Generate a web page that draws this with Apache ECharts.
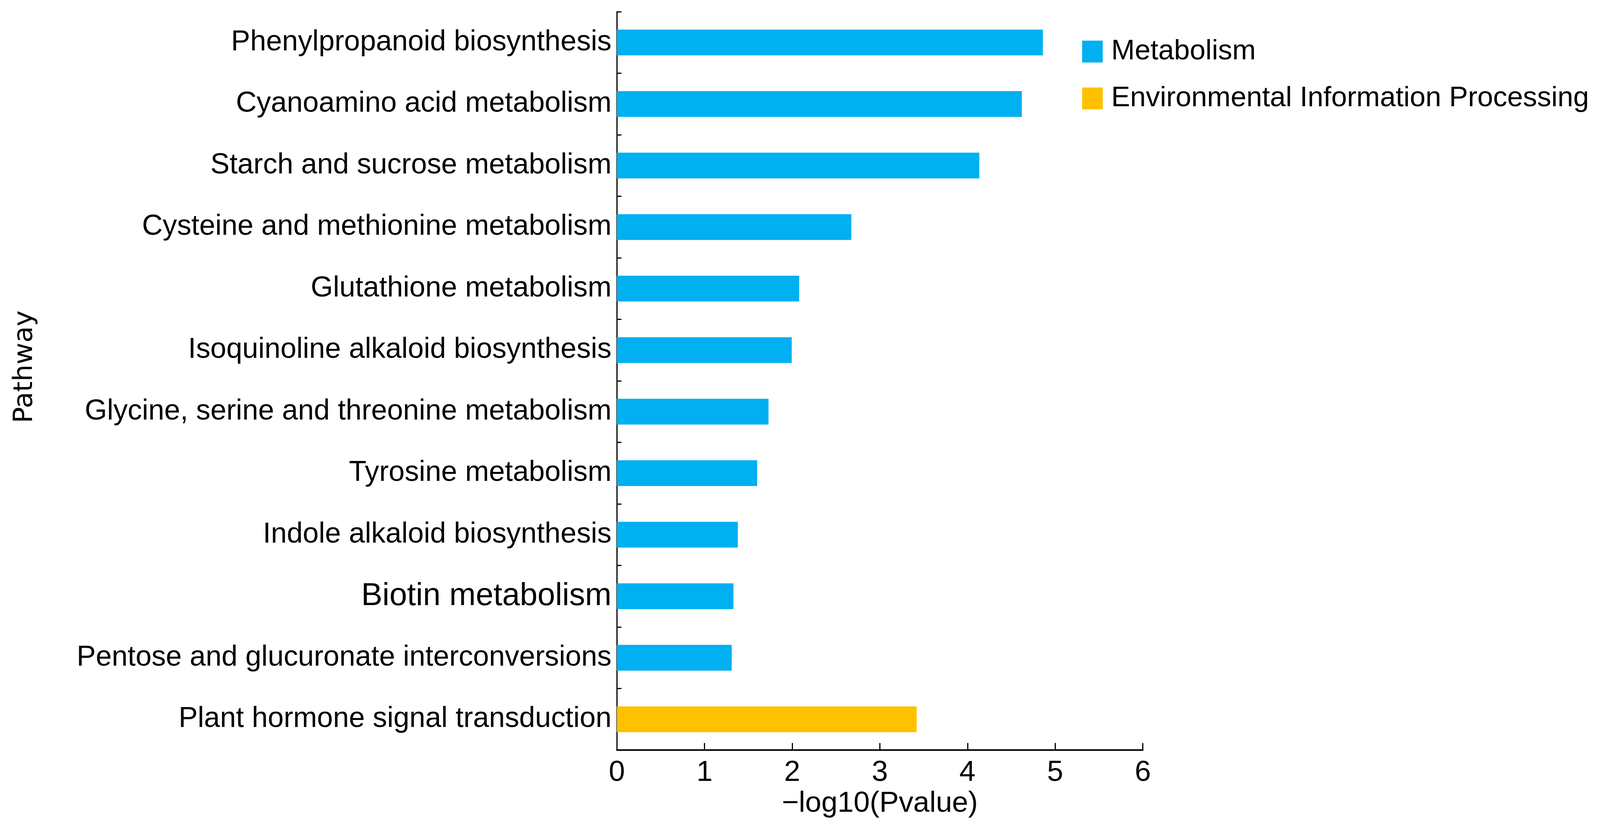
<!DOCTYPE html>
<html>
<head>
<meta charset="utf-8">
<script src="https://cdn.jsdelivr.net/npm/echarts@6/dist/echarts.min.js"></script>
<style>
html,body{margin:0;padding:0;background:#fff;overflow:hidden;}
#chart{width:100vw;height:100vh;}
</style>
</head>
<body>
<div id="chart"></div>
<script>
const categories = [
  "Phenylpropanoid biosynthesis",
  "Cyanoamino acid metabolism",
  "Starch and sucrose metabolism",
  "Cysteine and methionine metabolism",
  "Glutathione metabolism",
  "Isoquinoline alkaloid biosynthesis",
  "Glycine, serine and threonine metabolism",
  "Tyrosine metabolism",
  "Indole alkaloid biosynthesis",
  "Biotin metabolism",
  "Pentose and glucuronate interconversions",
  "Plant hormone signal transduction"
];
const metabolismValues = [4.86, 4.62, 4.135, 2.675, 2.08, 1.995, 1.73, 1.60, 1.38, 1.33, 1.31, '-'];
const envInfoValues = ['-', '-', '-', '-', '-', '-', '-', '-', '-', '-', '-', 3.42];
const xTicks = [0, 1, 2, 3, 4, 5, 6];
const seriesNames = ["Metabolism", "Environmental Information Processing"];

const FONT = "Liberation Sans, Arial, sans-serif";
const chart = echarts.init(document.getElementById('chart'));
// Layout designed for a 4189-wide canvas; scale horizontal quantities to actual width.
const sx = chart.getWidth() / 4189;
const fs = v => Math.round(v * sx * 10) / 10;

const yData = categories.map(c => c === "Biotin metabolism"
  ? { value: c, textStyle: { fontSize: fs(83) } }
  : c);

chart.setOption({
  backgroundColor: '#fff',
  animation: false,
  textStyle: { fontFamily: FONT, color: '#000' },
  grid: { left: 1615 * sx, top: 30, right: 1197 * sx, bottom: 197, containLabel: false },
  legend: {
    orient: 'vertical',
    left: 2828 * sx,
    top: 90,
    itemWidth: 54 * sx,
    itemHeight: 56,
    itemGap: 46,
    icon: 'rect',
    data: seriesNames,
    textStyle: { fontSize: fs(74), lineHeight: 74, color: '#000', fontFamily: FONT, padding: [0, 0, 0, 17 * sx] }
  },
  xAxis: {
    type: 'value',
    min: xTicks[0],
    max: xTicks[xTicks.length - 1],
    interval: 1,
    name: '\u2212log10(Pvalue)',
    nameLocation: 'middle',
    nameGap: 92,
    nameTextStyle: { fontSize: fs(76), color: '#000', fontFamily: FONT },
    axisLine: { show: true, lineStyle: { color: '#000', width: 4 } },
    axisTick: { show: true, inside: true, length: 18, lineStyle: { color: '#000', width: 3 } },
    axisLabel: { fontSize: fs(76), color: '#000', margin: 22, fontFamily: FONT },
    splitLine: { show: false }
  },
  yAxis: {
    type: 'category',
    inverse: true,
    data: yData,
    name: 'Pathway',
    nameLocation: 'middle',
    nameRotate: 90,
    nameGap: 1515 * sx,
    nameTextStyle: { fontSize: fs(70), color: '#000', fontFamily: 'DejaVu Sans, sans-serif', padding: [0, 0, 0, 72] },
    axisLine: { show: true, lineStyle: { color: '#000', width: 3 } },
    axisTick: { show: true, inside: true, length: 12 * sx, lineStyle: { color: '#000', width: 3 } },
    axisLabel: { fontSize: fs(75), color: '#000', margin: 14 * sx, fontFamily: FONT }
  },
  series: [
    {
      name: seriesNames[0],
      type: 'bar',
      stack: 'all',
      barWidth: '42%',
      itemStyle: { color: '#00B0F0' },
      data: metabolismValues
    },
    {
      name: seriesNames[1],
      type: 'bar',
      stack: 'all',
      barWidth: '42%',
      itemStyle: { color: '#FFC000' },
      data: envInfoValues
    }
  ]
});
</script>
</body>
</html>
